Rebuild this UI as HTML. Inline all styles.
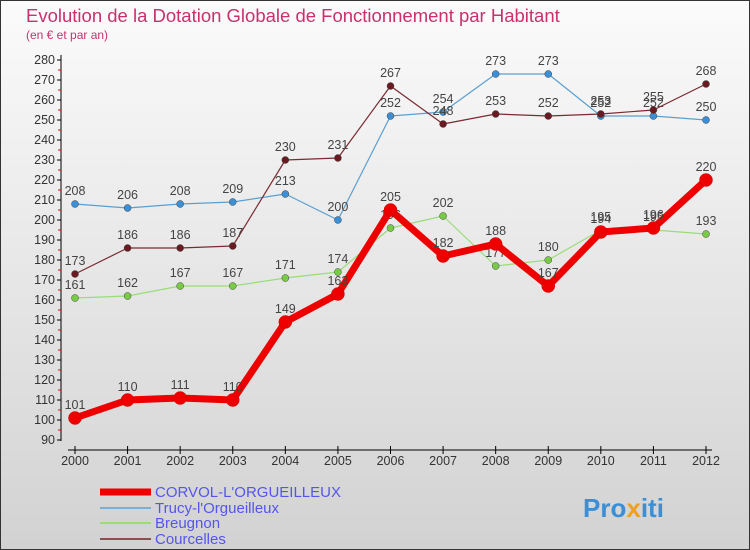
<!DOCTYPE html>
<html><head><meta charset="utf-8"><style>
body{margin:0;background:#fff}
svg{display:block;font-family:"Liberation Sans",sans-serif}
</style></head><body>
<svg id="c" width="750" height="550">
<defs><linearGradient id="bg" x1="0" y1="0" x2="0" y2="1"><stop offset="0" stop-color="#fbfbfb"/><stop offset="1" stop-color="#d2d2d2"/></linearGradient></defs>
<rect x="0.5" y="0.5" width="749" height="549" fill="url(#bg)" stroke="#333"/>
<text x="26" y="22" font-size="18.5" fill="#c8306e">Evolution de la Dotation Globale de Fonctionnement par Habitant</text>
<text x="26" y="39" font-size="12" fill="#c8306e">(en € et par an)</text>
<g id="axes"></g><g id="series"></g><g id="legend"></g>
<text x="583" y="517" font-size="26" font-weight="bold" fill="#3a8fd6">Pro<tspan fill="#f0a020">x</tspan><tspan fill="#3a8fd6">iti</tspan></text>
</svg>
<script>
const years=[2000,2001,2002,2003,2004,2005,2006,2007,2008,2009,2010,2011,2012];
const corvol=[101,110,111,110,149,163,205,182,188,167,194,196,220];
const trucy=[208,206,208,209,213,200,252,254,273,273,252,252,250];
const breugnon=[161,162,167,167,171,174,196,202,177,180,195,195,193];
const courcelles=[173,186,186,187,230,231,267,248,253,252,253,255,268];
const yTicks=[90,100,110,120,130,140,150,160,170,180,190,200,210,220,230,240,250,260,270,280];
const NS="http://www.w3.org/2000/svg";
const X=i=>75+i*(706-75)/12;
const Y=v=>440-(v-90)*2;
function mk(t,a,p){const e=document.createElementNS(NS,t);for(const k in a)e.setAttribute(k,a[k]);p.appendChild(e);return e;}
const ax=document.getElementById('axes');
const yl=mk('line',{x1:61,y1:55,x2:61,y2:441,stroke:'#000'},ax);


yTicks.forEach(v=>{
 mk('line',{x1:57,y1:Y(v),x2:61,y2:Y(v),stroke:'#000'},ax);
 if(v<280)mk('line',{x1:58,y1:Y(v+5),x2:61,y2:Y(v+5),stroke:'#e00'},ax);
 const t=mk('text',{x:55,y:Y(v)+4,'font-size':12.5,fill:'#333','text-anchor':'end'},ax);t.textContent=v;
 
 
});
const xl=mk('line',{x1:68,y1:450,x2:712,y2:450,stroke:'#000'},ax);


years.forEach((y,i)=>{
 mk('line',{x1:X(i),y1:446,x2:X(i),y2:454,stroke:'#000'},ax);
 const t=mk('text',{x:X(i),y:465,'font-size':12.5,fill:'#333','text-anchor':'middle'},ax);t.textContent=y;
 
 
});
const sg=document.getElementById('series');
const series=[
 {d:trucy,c:'#5a9fd0',w:1.2,r:3.5,f:'#3a8fd6',n:'trucy'},
 {d:breugnon,c:'#99dd77',w:1.2,r:3.5,f:'#77cc44',n:'breugnon'},
 {d:courcelles,c:'#7a2a30',w:1.2,r:3.5,f:'#6a1a20',n:'courcelles'},
 {d:corvol,c:'#ee0000',w:7,r:6.5,f:'#ee0000',n:'corvol'}];
series.forEach(s=>{
 const g=mk('g',{},sg);
 
 
 const pl=mk('polyline',{points:s.d.map((v,i)=>X(i)+','+Y(v)).join(' '),fill:'none',stroke:s.c,'stroke-width':s.w,'stroke-linejoin':'round'},g);
 
 
 s.d.forEach((v,i)=>{
  const c=mk('circle',{cx:X(i),cy:Y(v),r:s.r,fill:s.f,stroke:s.n==='corvol'?'#c00':'#444','stroke-width':0.5},g);
  
  
  const t=mk('text',{x:X(i),y:Y(v)-9,'font-size':12.5,fill:'#444','text-anchor':'middle'},g);t.textContent=v;
  
  
 });
});
const lg=document.getElementById('legend');
const items=[['CORVOL-L\'ORGUEILLEUX','#ee0000',7,492],['Trucy-l\'Orgueilleux','#7ab0d8',2,508],['Breugnon','#99dd77',2,523],['Courcelles','#8a5050',2,539]];
items.forEach(it=>{
 const g=mk('g',{},lg);
 
 
 mk('line',{x1:100,y1:it[3],x2:151,y2:it[3],stroke:it[1],'stroke-width':it[2]},g);
 const t=mk('text',{x:155,y:it[3]+5,'font-size':15,fill:'#5555ee'},g);t.textContent=it[0];
});
</script>
</body></html>
